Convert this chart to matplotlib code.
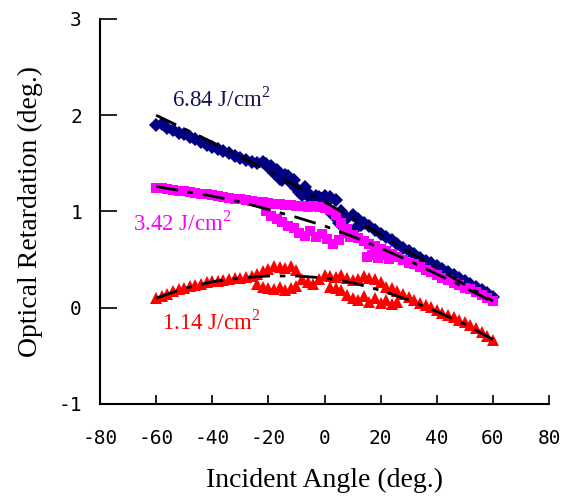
import matplotlib
matplotlib.use("Agg")
import matplotlib.pyplot as plt

plt.rcParams["axes.unicode_minus"] = False
plt.rcParams["mathtext.fontset"] = "custom"
plt.rcParams["mathtext.rm"] = "Liberation Serif"

# main angle sweep (deg.)
angle = [-60, -58, -56, -54, -52, -50, -48, -46, -44, -42, -40, -38, -36, -34,
         -32, -30, -28, -26, -24, -22, -20, -18, -16, -14, -12, -10, -8, -6,
         -4, -2, 0, 2, 4, 6, 8, 10, 12, 14, 16, 18, 20, 22, 24, 26, 28, 30,
         32, 34, 36, 38, 40, 42, 44, 46, 48, 50, 52, 54, 56, 58, 60]

# 6.84 J/cm2
ret_684 = [1.90, 1.91, 1.87, 1.85, 1.82, 1.80, 1.77, 1.75, 1.72, 1.69, 1.67,
           1.65, 1.63, 1.61, 1.58, 1.56, 1.54, 1.51, 1.50, 1.51, 1.46, 1.40,
           1.34, 1.38, 1.30, 1.24, 1.17, 1.19, 1.12, 1.15, 1.16, 1.15, 1.12,
           1.00, 0.93, 0.96, 0.92, 0.88, 0.85, 0.81, 0.77, 0.73, 0.70, 0.66,
           0.62, 0.59, 0.56, 0.52, 0.49, 0.46, 0.43, 0.40, 0.37, 0.34, 0.31,
           0.28, 0.25, 0.22, 0.18, 0.15, 0.11]
angle_684b = [-21, -19, -17, -15, -13, -11, -9, -7, -5, -3, -1, 1, 3, 5, 7, 9, 11, 13]
ret_684b = [1.49, 1.47, 1.43, 1.33, 1.37, 1.33, 1.20, 1.25, 1.14, 1.16, 1.13,
            1.10, 0.96, 0.88, 0.84, 0.80, 0.82, 0.86]

# 3.42 J/cm2
ret_342 = [1.24, 1.24, 1.23, 1.22, 1.21, 1.21, 1.20, 1.19, 1.18, 1.18, 1.17,
           1.16, 1.15, 1.14, 1.13, 1.13, 1.12, 1.11, 1.10, 1.10, 1.09, 1.08,
           1.08, 1.07, 1.07, 1.06, 1.06, 1.05, 1.06, 1.05, 1.04, 1.02, 0.96,
           0.88, 0.82, 0.76, 0.72, 0.69, 0.66, 0.64, 0.61, 0.59, 0.56, 0.53,
           0.50, 0.47, 0.45, 0.42, 0.39, 0.37, 0.34, 0.31, 0.29, 0.26, 0.24,
           0.21, 0.19, 0.16, 0.13, 0.10, 0.07]
angle_342b = [-21, -19, -17, -15, -13, -11, -9, -7, -5, -3, -1, 1, 3, 5, 7, 9,
              15, 17, 19, 21, 23]
ret_342b = [1.00, 0.95, 0.92, 0.89, 0.85, 0.83, 0.78, 0.75, 0.80, 0.73, 0.77,
            0.71, 0.66, 0.70, 0.78, 0.74, 0.53, 0.55, 0.52, 0.55, 0.51]

# 1.14 J/cm2
ret_114 = [0.10, 0.12, 0.14, 0.17, 0.19, 0.21, 0.23, 0.24, 0.25, 0.27, 0.28,
           0.28, 0.29, 0.30, 0.31, 0.31, 0.32, 0.33, 0.35, 0.38, 0.40, 0.43,
           0.42, 0.41, 0.43, 0.39, 0.30, 0.27, 0.25, 0.30, 0.34, 0.33, 0.32,
           0.34, 0.31, 0.29, 0.30, 0.33, 0.31, 0.30, 0.27, 0.22, 0.20, 0.17,
           0.14, 0.11, 0.08, 0.05, 0.03, 0.01, -0.02, -0.05, -0.08, -0.10,
           -0.13, -0.15, -0.18, -0.21, -0.25, -0.29, -0.33]
angle_114b = [-24, -22, -20, -18, -16, -14, -12, -10, 2, 4, 6, 8, 10, 12, 14,
              16, 18, 20, 22, 24, 26]
ret_114b = [0.25, 0.22, 0.21, 0.19, 0.22, 0.18, 0.20, 0.23, 0.22, 0.20, 0.18,
            0.13, 0.10, 0.08, 0.12, 0.06, 0.10, 0.05, 0.08, 0.04, 0.06]

# fitted curves
fit_angle = [-60, -50, -40, -30, -20, -10, 0, 10, 20, 30, 40, 50, 60]
fit_684 = [2.00, 1.86, 1.72, 1.57, 1.42, 1.26, 1.10, 0.93, 0.76, 0.58, 0.41, 0.24, 0.07]
fit_342 = [1.26, 1.21, 1.16, 1.10, 1.02, 0.94, 0.85, 0.74, 0.62, 0.49, 0.35, 0.21, 0.06]
fit_114 = [0.10, 0.20, 0.27, 0.31, 0.33, 0.33, 0.31, 0.26, 0.18, 0.08, -0.04, -0.17, -0.33]

fig = plt.figure(figsize=(5.66, 4.96), dpi=100)
ax = fig.add_axes([0.1767, 0.1855, 0.7933, 0.7762])

ax.plot(angle, ret_684, "D", color="#000080", ms=7, mew=0)
ax.plot(angle_684b, ret_684b, "D", color="#000080", ms=7, mew=0)
ax.plot(angle, ret_342, "s", color="#FF00FF", ms=7.5, mew=0)
ax.plot(angle_342b, ret_342b, "s", color="#FF00FF", ms=7.5, mew=0)
ax.plot(angle, ret_114, "^", color="#FF0000", ms=8.5, mew=0)
ax.plot(angle_114b, ret_114b, "^", color="#FF0000", ms=8.5, mew=0)

dash = (0, (8, 3.5, 2, 3.5))
for f in (fit_684, fit_342, fit_114):
    ax.plot(fit_angle, f, color="black", lw=2, linestyle=dash)

lab_font = dict(family="Liberation Serif", fontsize=16.5)
ax.text(-54.5, 2.09, "6.84 J/cm$^{2}$", color="#141450", **lab_font)
ax.text(-68.4, 0.80, "3.42 J/cm$^{2}$", color="#FF00FF", **lab_font)
ax.text(-58.0, -0.23, "1.14 J/cm$^{2}$", color="#FF0000", **lab_font)

ax.set_xlim(-80, 80)
ax.set_ylim(-1, 3)
ax.set_xticks([-80, -60, -40, -20, 0, 20, 40, 60, 80])
ax.set_yticks([-1, 0, 1, 2, 3])
ax.spines["top"].set_visible(False)
ax.spines["right"].set_visible(False)
for s in ("left", "bottom"):
    ax.spines[s].set_linewidth(1.5)
ax.tick_params(axis="x", direction="in", length=6.5, width=1.2, pad=18,
               labelsize=14, colors="black")
ax.tick_params(axis="y", direction="in", length=12, width=1.2, pad=13,
               labelsize=14)
for t in ax.get_xticklabels() + ax.get_yticklabels():
    t.set_family("DejaVu Sans Mono")

ax.set_xlabel("Incident Angle (deg.)", family="Liberation Serif", fontsize=20,
              labelpad=14)
ax.set_ylabel("Optical Retardation (deg.)", family="Liberation Serif",
              fontsize=20, labelpad=11)

fig.savefig("out.png", dpi=100)
